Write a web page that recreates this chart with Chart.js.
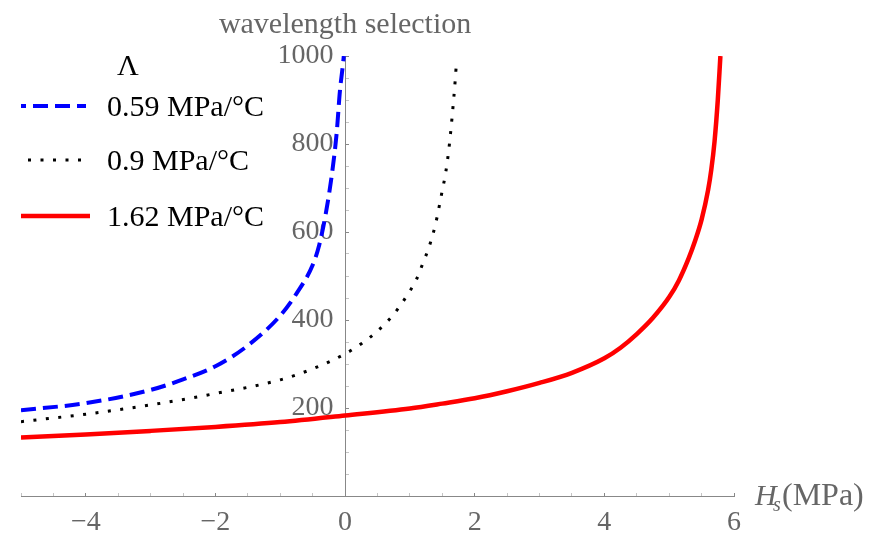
<!DOCTYPE html>
<html>
<head>
<meta charset="utf-8">
<script src="https://cdn.jsdelivr.net/npm/chart.js@4"></script>
<style>
  html, body { margin: 0; padding: 0; background: #fff; }
  #wrap { width: 880px; height: 534px; }
</style>
</head>
<body>
<div id="wrap"><canvas id="waveChart" width="880" height="534"></canvas></div>
<script>
// ===== Data =====
const titleText = 'wavelength selection';
const legendTitle = '\u039B';
const seriesLabels = ['0.59 MPa/\u00B0C', '0.9 MPa/\u00B0C', '1.62 MPa/\u00B0C'];

const blueX = [-5, -4, -3, -2.5, -2, -1.5, -1, -0.75, -0.5, -0.4, -0.3, -0.2, -0.13, -0.08, -0.03, -0.02];
const blueY = [195, 211, 241, 265, 295, 342, 410, 460, 525, 570, 640, 735, 825, 920, 985, 1000];

const blackX = [-5, -4, -3, -2, -1, -0.5, 0, 0.25, 0.5, 0.75, 1, 1.1, 1.2, 1.3, 1.4, 1.5, 1.55, 1.6, 1.65, 1.7, 1.72];
const blackY = [169, 186, 207, 233, 264, 289, 323, 346, 375, 413, 466, 492, 529, 568, 621, 695, 733, 787, 860, 947, 990];

const redX = [-5, -4, -3, -2, -1, 0, 1, 1.5, 2, 2.5, 3, 3.5, 4, 4.25, 4.5, 4.75, 5, 5.15, 5.3, 5.4, 5.5, 5.6, 5.65, 5.7, 5.75, 5.79];
const redY = [133, 140, 148, 157, 168, 183, 199, 210, 222, 238, 257, 280, 313, 337, 368, 405, 452, 490, 540, 580, 628, 695, 742, 806, 900, 1000];

const xTickLabels = [-4, -2, 0, 2, 4, 6];
const yTickLabels = [200, 400, 600, 800, 1000];

function toPoints(xs, ys) {
  return xs.map((v, i) => ({ x: v, y: ys[i] }));
}

const serif = '"Liberation Serif", "Times New Roman", serif';
const gray = '#666666';

// ===== Title, axis label and legend =====
const overlay = {
  id: 'overlay',
  afterDraw(chart) {
    const ctx = chart.ctx;
    const xs = chart.scales.x;
    ctx.save();

    // title over the vertical axis
    ctx.font = '30px ' + serif;
    ctx.fillStyle = gray;
    ctx.textAlign = 'center';
    ctx.textBaseline = 'alphabetic';
    ctx.fillText(titleText, xs.getPixelForValue(0), 33);

    // H_s(MPa) at the end of the horizontal axis
    ctx.textAlign = 'left';
    ctx.font = 'italic 30px ' + serif;
    ctx.fillText('H', 755, 505);
    ctx.font = 'italic 20px ' + serif;
    ctx.fillText('s', 773, 511);
    ctx.font = '32px ' + serif;
    ctx.fillText('(MPa)', 782, 505);

    // legend
    ctx.font = '30px ' + serif;
    ctx.fillStyle = '#000';
    ctx.textAlign = 'center';
    ctx.fillText(legendTitle, 128, 75);
    const rows = [106, 160, 216];
    chart.data.datasets.forEach((ds, i) => {
      const y = rows[i];
      ctx.save();
      ctx.strokeStyle = ds.borderColor;
      ctx.lineWidth = ds.borderWidth;
      ctx.setLineDash(ds.borderDash || []);
      ctx.lineDashOffset = i === 0 ? 10 : 0;
      ctx.beginPath();
      ctx.moveTo(i === 1 ? 28 : 21, y);
      ctx.lineTo(i === 2 ? 90 : 86, y);
      ctx.stroke();
      ctx.restore();
      ctx.textAlign = 'left';
      ctx.fillText(ds.label, 107, y + 10);
    });
    ctx.restore();
  }
};

const ctx = document.getElementById('waveChart').getContext('2d');
const waveChart = new Chart(ctx, {
  type: 'line',
  data: {
    datasets: [{
      label: seriesLabels[0],
      data: toPoints(blueX, blueY),
      borderColor: '#0000ff',
      borderWidth: 4,
      borderDash: [15, 7],
      pointRadius: 0,
      cubicInterpolationMode: 'monotone',
      fill: false
    }, {
      label: seriesLabels[1],
      data: toPoints(blackX, blackY),
      borderColor: '#000000',
      borderWidth: 3,
      borderDash: [3, 9.5],
      pointRadius: 0,
      cubicInterpolationMode: 'monotone',
      fill: false
    }, {
      label: seriesLabels[2],
      data: toPoints(redX, redY),
      borderColor: '#ff0000',
      borderWidth: 4.5,
      pointRadius: 0,
      cubicInterpolationMode: 'monotone',
      fill: false
    }]
  },
  options: {
    responsive: false,
    animation: false,
    layout: { padding: { left: 21, right: 146, top: 56, bottom: 38 } },
    plugins: {
      legend: { display: false },
      title: { display: false },
      tooltip: { enabled: false }
    },
    scales: {
      x: {
        type: 'linear',
        min: -5,
        max: 6,
        position: { y: 0 },
        border: { color: '#888', width: 1 },
        grid: {
          drawOnChartArea: false,
          tickLength: -4,
          tickColor: c => (c.tick && c.tick.value % 2 === 0) ? '#888' : '#c4c4c4'
        },
        ticks: {
          stepSize: 0.5,
          autoSkip: false,
          maxRotation: 0,
          padding: 14,
          color: gray,
          font: { family: serif, size: 28 },
          callback: v => xTickLabels.includes(v) ? (v < 0 ? '\u2212' + Math.abs(v) : String(v)) : ''
        }
      },
      y: {
        type: 'linear',
        min: 0,
        max: 1000,
        position: { x: 0 },
        border: { color: '#888', width: 1 },
        grid: {
          drawOnChartArea: false,
          tickLength: -4,
          tickColor: c => (c.tick && c.tick.value % 200 === 0) ? '#888' : '#c4c4c4'
        },
        ticks: {
          stepSize: 50,
          autoSkip: false,
          color: gray,
          font: { family: serif, size: 28 },
          // labels on a centred axis sit flush on the line, so pad with thin spaces
          callback: v => yTickLabels.includes(v) ? String(v) + '\u2005\u2006' : ''
        }
      }
    }
  },
  plugins: [overlay]
});
</script>
</body>
</html>
